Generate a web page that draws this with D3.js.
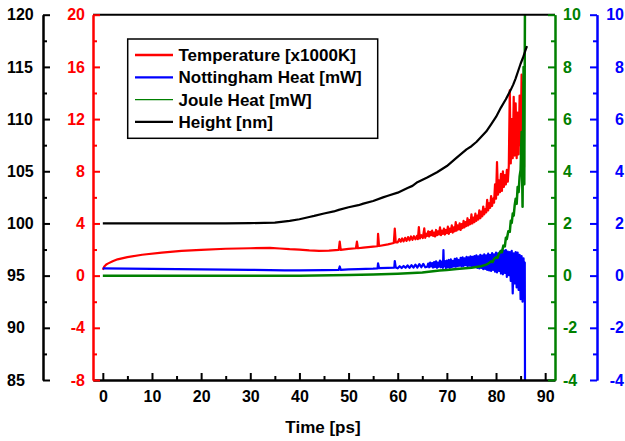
<!DOCTYPE html>
<html><head><meta charset="utf-8">
<script src="https://cdn.jsdelivr.net/npm/d3@7"></script>
<style>
html,body{margin:0;padding:0;background:#fff;}
svg{display:block;font-family:"Liberation Sans",Arial,sans-serif;font-weight:bold;}
</style></head>
<body>
<svg id="chart" width="625" height="441"></svg>
<script>
// ---------------- DATA ----------------
const xTicks = [0,10,20,30,40,50,60,70,80,90];
const heightTicks = [85,90,95,100,105,110,115,120];
const tempTicks = [-8,-4,0,4,8,12,16,20];
const jouleTicks = [-4,-2,0,2,4,6,8,10];
const nottTicks = [-4,-2,0,2,4,6,8,10];

const seriesNames = ["Temperature [x1000K]","Nottingham Heat [mW]","Joule Heat [mW]","Height [nm]"];
const seriesColors = ["#ff0000","#0000ff","#008000","#000000"];

// Height [nm] (left black axis)
const heightData = [[0,100.0],[5,100.0],[10,100.0],[15,100.0],[20,100.0],[25,100.0],[30,100.03],[35,100.08],
 [38,100.25],[40,100.4],[42,100.62],[43,100.72],[45,100.95],[47,101.15],[48,101.3],[50,101.55],[52,101.75],[53,101.9],
 [55,102.15],[57,102.5],[58,102.65],[60,102.95],[62,103.4],[63,103.6],[64,103.95],[66,104.4],[68,104.9],[70,105.5],
 [71,105.9],[72,106.3],[74,107.1],[75,107.4],[76,107.8],[77,108.3],[78,108.8],[79,109.5],[80,110.2],[81,111.1],
 [82,111.9],[83,112.8],[83.5,113.3],[84,113.9],[85,115.3],[85.5,115.9],[86,116.6],[86.3,117.0]];

// Temperature [x1000K] (red axis)
const temperatureData = [[0,0.45],[0.3,0.7],[0.7,0.85],[1,0.92],[2,1.1],[3,1.25],[5,1.42],[8,1.6],[12,1.77],[16,1.9],
 [20,1.98],[25,2.06],[30,2.1],[34,2.12],[36,2.08],[38,2.03],[40,2.0],[42,1.93],[44,1.9],[46,1.92],[48,1.97],
 [48.2,2.6],[48.4,1.98],[50,2.05],[51.5,2.1],[51.7,2.6],[51.9,2.1],[53,2.15],[55,2.22],[55.9,2.25],[56.0,3.2],
 [56.2,2.27],[58,2.4],[59.2,2.5],[59.4,3.6],[59.6,2.55],
 [60.0,2.55],[60.3,2.80],[60.6,2.60],[60.9,2.85],[61.2,2.62],[61.5,2.90],[61.8,2.66],[62.1,2.95],[62.4,2.70],
 [62.7,3.00],[63.0,2.74],[63.3,3.02],[63.6,2.78],[63.9,3.05],[64.1,2.80],[64.3,3.72],[64.5,2.85],[64.8,3.10],
 [65.1,2.88],[65.4,3.62],[65.6,2.90],[65.8,3.20],
 [66.0,3.05],[66.2,3.40],[66.4,3.00],[66.6,3.35],[66.8,3.10],[67.0,3.45],[67.2,3.05],[67.4,3.30],[67.6,3.00],
 [67.8,3.50],[68.0,3.10],[68.2,3.40],[68.4,3.15],[68.6,3.70],[68.8,3.10],[69.0,3.45],[69.2,3.20],[69.4,3.60],
 [69.6,3.15],[69.8,3.50],[70.0,3.25],[70.2,3.75],[70.4,3.20],[70.6,3.60],[70.8,3.35],[71.0,3.85],[71.2,3.30],
 [71.4,3.70],[71.6,3.40],[71.8,4.10],[72.0,3.45],[72.2,3.85],[72.4,3.55],[72.6,4.00],[72.8,3.50],[73.0,3.95],
 [73.2,3.65],[73.4,4.20],[73.6,3.70],[73.8,4.10],[74.0,3.80],[74.2,4.40],[74.4,3.85],[74.6,4.25],[74.8,3.95],
 [75.0,4.70],[75.2,4.00],[75.4,4.45],[75.6,4.10],[75.8,4.75],[76.0,4.20],[76.2,4.60],[76.4,4.30],[76.6,5.00],
 [76.8,4.40],[77.0,4.90],[77.2,4.55],[77.4,5.30],[77.6,4.70],[77.8,5.10],[78.0,4.85],[78.2,5.80],[78.4,5.00],
 [78.6,5.55],[78.8,5.20],[79.0,6.10],[79.2,5.35],[79.4,5.90],[79.6,5.60],[79.8,7.00],[80.0,5.90],[80.2,8.70],
 [80.4,6.20],[80.6,7.30],[80.8,6.40],[81.0,7.80],[81.2,6.50],[81.4,8.00],[81.6,6.80],[81.8,7.70],[82.0,7.00],
 [82.2,8.10],[82.4,7.20],[82.6,8.40],[82.8,14.2],[83.0,8.6],[83.2,12.0],[83.4,9.0],[83.6,13.7],[83.8,9.2],
 [84.0,13.2],[84.2,9.0],[84.4,12.5],[84.6,9.3],[84.8,13.8],[85.0,10.0],[85.2,15.4],[85.4,9.5],[85.6,14.8],[85.7,8.3]];

// Nottingham Heat [mW] (blue axis)
const nottinghamData = [[0,0.28],[5,0.27],[10,0.26],[20,0.24],[30,0.22],[37,0.2],[40,0.2],[45,0.21],[48,0.22],
 [48.2,0.35],[48.4,0.22],[50,0.24],[52,0.25],[55,0.27],[55.9,0.28],[56.0,0.47],[56.2,0.29],[58,0.30],[59.3,0.31],
 [59.4,0.56],[59.6,0.31],
 [60.0,0.28],[60.4,0.36],[60.8,0.29],[61.2,0.37],[61.6,0.30],[62.0,0.39],[62.4,0.30],[62.8,0.40],[63.2,0.31],
 [63.6,0.42],[64.0,0.31],[64.4,0.44],[64.8,0.32],[65.2,0.45],[65.6,0.32],
 [66.0,0.34],[66.2,0.46],[66.4,0.32],[66.6,0.50],[66.8,0.35],[67.0,0.48],[67.2,0.31],[67.4,0.52],[67.6,0.33],
 [67.8,0.55],[68.0,0.30],[68.2,0.50],[68.4,0.34],[68.6,0.58],[68.8,0.32],[69.0,0.54],[69.2,0.30],[69.3,0.98],
 [69.4,0.36],[69.6,0.56],[69.8,0.29],[70.0,0.58],[70.2,0.32],[70.4,0.60],[70.6,0.30],[70.8,0.62],[71.0,0.33],
 [71.2,0.57],[71.4,0.35],[71.6,0.64],[71.8,0.34],[72.0,0.66],[72.2,0.36],[72.4,0.60],[72.6,0.38],[72.8,0.68],
 [73.0,0.35],[73.2,0.70],[73.4,0.37],[73.6,0.66],[73.8,0.40],[74.0,0.72],[74.2,0.36],[74.4,0.70],[74.6,0.38],
 [74.8,0.74],[75.0,0.35],[75.2,0.72],[75.4,0.33],[75.6,0.75],[75.8,0.36],[76.0,0.78],[76.2,0.30],[76.4,0.74],
 [76.6,0.28],[76.8,0.80],[77.0,0.30],[77.2,0.77],[77.4,0.25],[77.6,0.82],[77.8,0.26],[78.0,0.78],[78.2,0.22],
 [78.4,0.84],[78.6,0.20],[78.8,0.80],[79.0,0.18],[79.2,0.86],[79.4,0.22],[79.6,0.82],[79.8,0.15],[80.0,0.88],
 [80.2,0.12],[80.4,0.85],[80.6,0.18],[80.8,0.92],[81.0,0.08],[81.2,0.90],[81.4,0.05],[81.6,0.96],[81.8,0.10],
 [82.0,0.98],[82.2,-0.05],[82.4,0.92],[82.6,0.02],[82.8,0.90],[83.0,-0.20],[83.2,0.95],[83.4,-0.68],[83.6,0.85],
 [83.8,-0.30],[84.0,0.90],[84.2,-0.45],[84.4,0.88],[84.6,-0.55],[84.8,0.80],[85.0,-0.90],[85.2,0.75],[85.4,-1.0],
 [85.6,0.66],[85.75,-0.6],[85.85,0.50],[85.9,-4.5]];

// Joule Heat [mW] (green axis)
const jouleData = [[0,0.0],[10,0.0],[20,0.0],[30,0.0],[40,0.0],[50,0.02],[55,0.04],[60,0.07],[65,0.12],[68.5,0.2],
 [70,0.22],[72,0.25],[75,0.3],[76,0.33],[77,0.36],[78,0.42],[78.5,0.47],[79,0.55],[79.3,0.52],[79.6,0.64],
 [80.0,0.70],[80.3,0.68],[80.6,0.84],[81.0,0.95],[81.2,0.90],[81.5,1.15],[81.8,1.12],[82.0,1.45],[82.2,1.40],
 [82.5,1.70],[82.8,1.68],[83.0,2.10],[83.2,2.02],[83.4,2.38],[83.6,2.30],[83.8,2.70],[84.0,2.95],[84.2,2.75],
 [84.4,3.40],[84.6,3.20],[84.8,3.80],[85.0,4.05],[85.2,5.5],[85.4,2.64],[85.6,8.0],[85.75,3.5],[85.9,11]];

// ---------------- LAYOUT ----------------
const svg = d3.select("#chart");
const X0 = 93, X1 = 555, Y0 = 380, Y1 = 14.7;
const x = d3.scaleLinear().domain([-2,92]).range([X0,X1]);
const yH = d3.scaleLinear().domain([85,120]).range([Y0,Y1]);
const yT = d3.scaleLinear().domain([-8,20]).range([Y0,Y1]);
const yJ = d3.scaleLinear().domain([-4,10]).range([Y0,Y1]);
const yN = d3.scaleLinear().domain([-4,10]).range([Y0,Y1]);

svg.append("clipPath").attr("id","plotclip").append("rect")
  .attr("x",X0).attr("y",Y1).attr("width",X1-X0).attr("height",Y0-Y1);

function range(a,b,s){const r=[];for(let v=a;v<=b+1e-9;v+=s)r.push(+v.toFixed(6));return r;}
const fmt = d => String(d);

function styleAxis(g,color){
  g.selectAll("line").attr("stroke",color).attr("stroke-width",2);
  g.selectAll("path").attr("stroke",color).attr("stroke-width",2);
  g.selectAll("text").attr("fill",color).attr("font-size",16).attr("font-weight","bold")
   .attr("font-family",'"Liberation Sans",Arial,sans-serif');
}

// Data lines
const plot = svg.append("g").attr("clip-path","url(#plotclip)");
const lineGen = (ys)=>d3.line().x(d=>x(d[0])).y(d=>ys(d[1]));
plot.append("path").datum(temperatureData).attr("d",lineGen(yT)).attr("fill","none")
  .attr("stroke",seriesColors[0]).attr("stroke-width",2.2).attr("stroke-linejoin","round");
plot.append("path").datum(nottinghamData).attr("d",lineGen(yN)).attr("fill","none")
  .attr("stroke",seriesColors[1]).attr("stroke-width",2.2).attr("stroke-linejoin","round");
plot.append("path").datum(jouleData).attr("d",lineGen(yJ)).attr("fill","none")
  .attr("stroke",seriesColors[2]).attr("stroke-width",2.5).attr("stroke-linejoin","round");
plot.append("path").datum(heightData).attr("d",lineGen(yH)).attr("fill","none")
  .attr("stroke",seriesColors[3]).attr("stroke-width",2.2).attr("stroke-linejoin","round");

// X axis (bottom)
const gxMinor = svg.append("g").attr("transform",`translate(0,${Y0})`)
  .call(d3.axisBottom(x).tickValues(range(5,85,10)).tickSize(-4).tickSizeOuter(0).tickFormat(""));
styleAxis(gxMinor,"#000");
const gx = svg.append("g").attr("transform",`translate(0,${Y0})`)
  .call(d3.axisBottom(x).tickValues(xTicks).tickSize(-7).tickSizeOuter(0).tickPadding(11).tickFormat(fmt));
styleAxis(gx,"#000");
// top border
svg.append("line").attr("x1",X0).attr("x2",X1).attr("y1",Y1).attr("y2",Y1).attr("stroke","#000").attr("stroke-width",2);

// Height axis (far left, black)
const AH = 43;
const ghMinor = svg.append("g").attr("transform",`translate(${AH},0)`)
  .call(d3.axisLeft(yH).tickValues(range(87.5,117.5,5)).tickSize(-4).tickSizeOuter(0).tickFormat(""));
styleAxis(ghMinor,"#000");
const gh = svg.append("g").attr("transform",`translate(${AH},0)`)
  .call(d3.axisLeft(yH).tickValues(heightTicks).tickSize(-7).tickSizeOuter(0).tickFormat(fmt));
styleAxis(gh,"#000");
gh.selectAll("text").attr("text-anchor","start").attr("x",7-AH);

// Temperature axis (red, at plot left)
const gtMinor = svg.append("g").attr("transform",`translate(${X0},0)`)
  .call(d3.axisLeft(yT).tickValues(range(-6,18,4)).tickSize(-4).tickSizeOuter(0).tickFormat(""));
styleAxis(gtMinor,"#ff0000");
const gt = svg.append("g").attr("transform",`translate(${X0},0)`)
  .call(d3.axisLeft(yT).tickValues(tempTicks).tickSize(-7).tickSizeOuter(0).tickPadding(8).tickFormat(fmt));
styleAxis(gt,"#ff0000");

// Joule axis (green, at plot right)
const gjMinor = svg.append("g").attr("transform",`translate(${X1},0)`)
  .call(d3.axisRight(yJ).tickValues(range(-3,9,2)).tickSize(-4).tickSizeOuter(0).tickFormat(""));
styleAxis(gjMinor,"#008000");
const gj = svg.append("g").attr("transform",`translate(${X1},0)`)
  .call(d3.axisRight(yJ).tickValues(jouleTicks).tickSize(-7).tickSizeOuter(0).tickPadding(8).tickFormat(fmt));
styleAxis(gj,"#008000");

// Nottingham axis (blue, far right)
const AN = 597;
const gnMinor = svg.append("g").attr("transform",`translate(${AN},0)`)
  .call(d3.axisRight(yN).tickValues(range(-3,9,2)).tickSize(-4).tickSizeOuter(0).tickFormat(""));
styleAxis(gnMinor,"#0000ff");
const gn = svg.append("g").attr("transform",`translate(${AN},0)`)
  .call(d3.axisRight(yN).tickValues(nottTicks).tickSize(-7).tickSizeOuter(0).tickFormat(fmt));
styleAxis(gn,"#0000ff");
gn.selectAll("text").attr("text-anchor","end").attr("x",624-AN);

// X axis title
svg.append("text").attr("x",323).attr("y",433).attr("text-anchor","middle")
  .attr("font-size",17).attr("font-weight","bold").attr("fill","#000").text("Time [ps]");

// Legend
const lg = svg.append("g");
lg.append("rect").attr("x",127.7).attr("y",39).attr("width",250).attr("height",99.3)
  .attr("fill","#fff").attr("stroke","#000").attr("stroke-width",1.5);
const rowY = [55,77.3,99.6,121.8];
const legW = [2.3,2.3,1.3,2.3];
seriesNames.forEach((n,i)=>{
  lg.append("line").attr("x1",135).attr("x2",173).attr("y1",rowY[i]).attr("y2",rowY[i])
    .attr("stroke",seriesColors[i]).attr("stroke-width",legW[i]);
  lg.append("text").attr("x",178.5).attr("y",rowY[i]).attr("dy","0.36em")
    .attr("font-size",17).attr("font-weight","bold").attr("fill","#000").text(n);
});
</script>
</body></html>
